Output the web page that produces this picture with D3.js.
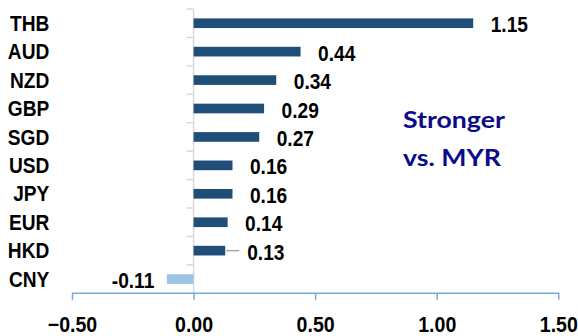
<!DOCTYPE html>
<html><head><meta charset="utf-8">
<script src="https://cdn.jsdelivr.net/npm/d3@7"></script>
<style>html,body{margin:0;padding:0;background:#fff;}svg{display:block;}</style>
</head><body>
<svg id="c" width="578" height="336"></svg>
<script>
const categories = ["THB","AUD","NZD","GBP","SGD","USD","JPY","EUR","HKD","CNY"];
const values = [1.15,0.44,0.34,0.29,0.27,0.16,0.16,0.14,0.13,-0.11];
const xTicks = [-0.5,0,0.5,1.0,1.5];
const annotation = ["Stronger","vs. MYR"];

const svg = d3.select("#c");
const x = d3.scaleLinear().domain([-0.5,1.5]).range([72,558.3]);
const y = d3.scaleBand().domain(categories).range([9,293.3]).paddingInner(0.66).paddingOuter(0.33);
const yb = d3.scaleBand().domain(categories).range([9,293.3]);
const font = "'Liberation Sans', Arial, sans-serif";
const FS = 21.5, SX = 0.89;
const mid = d => yb(d)+yb.bandwidth()/2;

// y axis line and ticks (gray)
const yAxisG = svg.append("g");
yAxisG.append("line").attr("x1",x(0)).attr("x2",x(0)).attr("y1",yb.range()[0]).attr("y2",yb.range()[1])
  .attr("stroke","#d9d9d9").attr("stroke-width",1.5);
yAxisG.selectAll("line.t").data(categories).join("line").attr("class","t")
  .attr("x1",x(0)-7).attr("x2",x(0)).attr("y1",d=>yb(d)).attr("y2",d=>yb(d))
  .attr("stroke","#d9d9d9").attr("stroke-width",1.5);

// bars
svg.selectAll("rect.bar").data(categories).join("rect").attr("class","bar")
  .attr("x",(d,i)=>x(Math.min(0,values[i])))
  .attr("width",(d,i)=>Math.abs(x(values[i])-x(0)))
  .attr("y",d=>y(d)).attr("height",y.bandwidth())
  .attr("fill",(d,i)=>values[i]<0?"#9dc3e6":"#1f4e79");

// category labels
svg.selectAll("text.cat").data(categories).join("text").attr("class","cat")
  .attr("transform",d=>`translate(49.3,${mid(d)+7.6}) scale(${SX},1)`)
  .attr("text-anchor","end")
  .attr("font-family",font).attr("font-weight","bold").attr("font-size",FS).attr("fill","#000")
  .text(d=>d);

// value labels
const offset = d => d==="HKD" ? 22 : 17.5;
svg.selectAll("line.leader").data(categories.filter(c=>c==="HKD")).join("line").attr("class","leader")
  .attr("x1",d=>x(values[categories.indexOf(d)])+1).attr("x2",d=>x(values[categories.indexOf(d)])+14)
  .attr("y1",d=>mid(d)).attr("y2",d=>mid(d))
  .attr("stroke","#a6a6a6").attr("stroke-width",1.5);
svg.selectAll("text.val").data(categories).join("text").attr("class","val")
  .attr("transform",(d,i)=>{
    const xx = values[i]<0 ? x(values[i])-12.5 : x(values[i])+offset(d);
    return `translate(${xx},${mid(d)+9}) scale(${SX},1)`;
  })
  .attr("text-anchor",(d,i)=>values[i]<0?"end":"start")
  .attr("font-family",font).attr("font-weight","bold").attr("font-size",FS).attr("fill","#000")
  .text((d,i)=>values[i].toFixed(2));

// x axis
const xAxis = d3.axisBottom(x).tickValues(xTicks).tickFormat(d3.format(".2f")).tickSize(7).tickSizeOuter(0);
const gx = svg.append("g").attr("transform","translate(0,292.8)").call(xAxis);
gx.select(".domain").attr("stroke","#7fa7d9").attr("stroke-width",1.5);
gx.selectAll(".tick line").attr("stroke","#7fa7d9").attr("stroke-width",1.5);
gx.selectAll(".tick text").attr("font-family",font).attr("font-weight","bold").attr("font-size",FS).attr("fill","#000")
  .attr("y",0).attr("dy",0).attr("transform",`translate(0,38.9) scale(0.91,1)`);

// annotation
svg.selectAll("text.ann").data(annotation).join("text").attr("class","ann")
  .attr("transform",(d,i)=>`translate(403,${128.3+i*37.4}) scale(1.16,1)`)
  .attr("font-family","Lato, 'Open Sans', sans-serif").attr("font-weight","bold").attr("font-size",23).attr("fill","#0b0b88")
  .text(d=>d);
</script>
</body></html>
